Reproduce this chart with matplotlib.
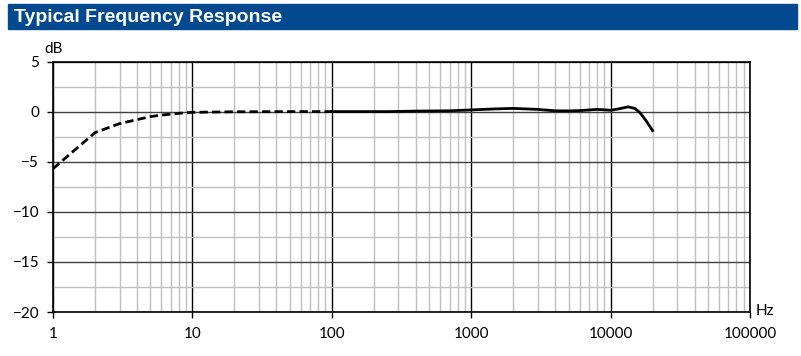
import matplotlib.pyplot as plt
from matplotlib.patches import Rectangle
from matplotlib.ticker import LogLocator, FixedLocator, NullFormatter

# low end, measured region (dashed)
freq_low = [1, 2, 3, 4, 5, 6, 8, 10, 20, 50, 100]
db_low = [-5.7, -2.1, -1.2, -0.8, -0.5, -0.35, -0.17, -0.07, -0.02, 0.0, 0.0]

# main response (solid)
freq_main = [100, 150, 250, 400, 700, 1000, 1500, 2000, 3000, 4000, 5000,
             6000, 8000, 9000, 10000, 11500, 13400, 15000, 16300, 18100, 20000]
db_main = [0.0, 0.0, 0.0, 0.05, 0.08, 0.17, 0.27, 0.32, 0.22, 0.08, 0.07,
           0.1, 0.22, 0.18, 0.13, 0.28, 0.48, 0.3, -0.13, -0.97, -1.9]

xticks = [1, 10, 100, 1000, 10000, 100000]
xlabels = ['1', '10', '100', '1000', '10000', '100000']
yticks = [5, 0, -5, -10, -15, -20]

plt.rcParams['font.family'] = ['Lato', 'DejaVu Sans']

fig = plt.figure(figsize=(8.01, 3.56), dpi=100)

# header bar
fig.patches.append(Rectangle((8 / 801, 1 - 29 / 356), 789 / 801, 25 / 356,
                             transform=fig.transFigure, color='#02498f', zorder=0))
fig.text(14 / 801, 1 - 17 / 356, 'Typical Frequency Response', color='white',
         fontsize=14, fontweight='bold', family='Liberation Sans', va='center', ha='left')

ax = fig.add_axes([53 / 801, 1 - 312 / 356, 697 / 801, 250.5 / 356])
ax.plot(freq_low, db_low, color='black', lw=2, ls=(0, (3, 1.5)))
ax.plot(freq_main, db_main, color='black', lw=2)

ax.set_xscale('log')
ax.set_xlim(1, 100000)
ax.set_ylim(-20, 5)
ax.set_xticks(xticks)
ax.set_xticklabels(xlabels)
ax.xaxis.set_minor_locator(LogLocator(base=10, subs=range(2, 10), numticks=20))
ax.xaxis.set_minor_formatter(NullFormatter())
ax.set_yticks(yticks)
ax.yaxis.set_minor_locator(FixedLocator([2.5, -2.5, -7.5, -12.5, -17.5]))

ax.grid(which='major', axis='x', color='black', lw=1)
ax.grid(which='major', axis='y', color='#404040', lw=1)
ax.grid(which='minor', color='#c0c0c0', lw=1)
ax.set_axisbelow(True)

ax.tick_params(which='major', direction='out', length=4, width=1, labelsize=11, pad=6)
ax.tick_params(which='minor', length=0)
ax.tick_params(axis='x', pad=7)
for s in ax.spines.values():
    s.set_linewidth(1.2)

fig.text(44 / 801, 1 - 49 / 356, 'dB', fontsize=11, ha='left', va='center')
fig.text(756 / 801, 1 - 311 / 356, 'Hz', fontsize=11, ha='left', va='center')

plt.savefig('out.png', dpi=100, facecolor='white')
